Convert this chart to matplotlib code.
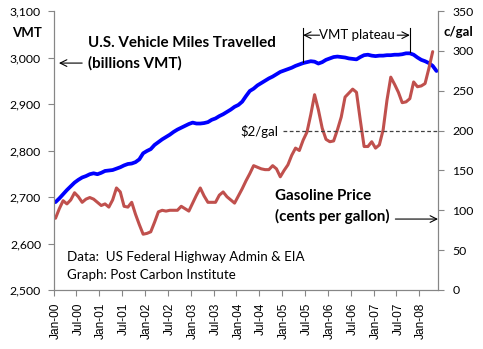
import numpy as np
import matplotlib
matplotlib.use('Agg')
import matplotlib.pyplot as plt
from matplotlib.ticker import FuncFormatter

# monthly values, Jan-00 onward
vmt = [2689, 2697, 2706, 2715, 2723, 2731, 2737, 2742, 2745, 2749,
       2751, 2749, 2752, 2756, 2757, 2758, 2761, 2764, 2768, 2771,
       2772, 2775, 2781, 2794, 2799, 2803, 2812, 2818, 2824, 2829,
       2834, 2840, 2845, 2849, 2853, 2857, 2860, 2858, 2858, 2859,
       2861, 2866, 2869, 2874, 2878, 2883, 2888, 2894, 2898, 2905,
       2917, 2928, 2933, 2940, 2945, 2950, 2955, 2959, 2964, 2969,
       2972, 2975, 2978, 2982, 2985, 2988, 2990, 2992, 2991, 2987,
       2990, 2995, 2998, 3001, 3002, 3001, 3000, 2998, 2997, 2996,
       3001, 3005, 3006, 3004, 3003, 3004, 3004, 3005, 3005, 3006,
       3006, 3007, 3009, 3009, 3006, 3000, 2995, 2992, 2988, 2982,
       2971]

price = [90, 102, 112, 108, 113, 122, 117, 110, 114, 116,
         114, 110, 106, 108, 104, 113, 128, 123, 105, 104,
         110, 95, 82, 70, 71, 73, 85, 98, 100, 99,
         100, 100, 100, 105, 102, 99, 109, 119, 128, 118,
         110, 110, 110, 119, 123, 117, 113, 109, 118, 127,
         137, 146, 156, 154, 152, 151, 151, 156, 152, 142,
         150, 157, 169, 178, 175, 188, 198, 220, 245, 226,
         203, 189, 186, 187, 201, 217, 242, 247, 252, 248,
         213, 180, 180, 186, 178, 182, 201, 238, 267, 258,
         248, 235, 236, 240, 261, 255, 256, 259, 278, 299]

tick_labels = ['Jan-00', 'Jul-00', 'Jan-01', 'Jul-01', 'Jan-02', 'Jul-02',
               'Jan-03', 'Jul-03', 'Jan-04', 'Jul-04', 'Jan-05', 'Jul-05',
               'Jan-06', 'Jul-06', 'Jan-07', 'Jul-07', 'Jan-08']

plateau_start, plateau_end = 65, 93
two_dollars = 200

W, H = 483, 349
plt.rcParams['font.family'] = ['Lato', 'DejaVu Sans']
fig = plt.figure(figsize=(W / 100, H / 100), dpi=100)
ax = fig.add_axes([53.6 / W, 1 - 290 / H, 384.8 / W, 279 / H])
ax2 = ax.twinx()

x_vmt = np.arange(len(vmt))
x_price = np.arange(len(price))
ax.plot(x_vmt, vmt, color='#0000ff', lw=2.7, solid_capstyle='round')
ax2.plot(x_price, price, color='#c0504d', lw=2.2, solid_capstyle='round')

ax.set_xlim(-0.5, len(vmt) - 0.5)
ax.set_ylim(2500, 3100)
ax2.set_ylim(0, 350)

gray = '#868686'
for a in (ax, ax2):
    a.spines['top'].set_visible(False)
    for s in ('left', 'right', 'bottom'):
        a.spines[s].set_color(gray)

ax.set_yticks(np.arange(2500, 3101, 100))
ax.yaxis.set_major_formatter(FuncFormatter(lambda v, p: '{:,.0f}'.format(v)))
ax.tick_params(axis='y', direction='out', length=4, color=gray, labelsize=8.8, pad=5)
ax2.set_yticks(np.arange(0, 351, 50))
ax2.tick_params(axis='y', direction='out', length=4, color=gray, labelsize=8.8, pad=6)

ax.set_xticks(np.arange(-0.5, len(vmt) - 0.5, 6))
ax.set_xticklabels([])
ax.set_xticks(np.arange(0, 6 * len(tick_labels), 6), minor=True)
ax.set_xticklabels(tick_labels, minor=True, rotation=90, family='Liberation Sans', fontsize=8.6)
ax.tick_params(axis='x', which='major', direction='out', length=4, color=gray)
ax.tick_params(axis='x', which='minor', length=0, pad=9)


def px(x, y):
    return x / W, 1 - y / H


arrow = dict(arrowstyle='->', color='black', lw=0.8, shrinkA=0, shrinkB=0,
             mutation_scale=12)

# $2/gal reference line
ax2.plot([59.7, len(vmt) - 0.5], [two_dollars, two_dollars], ls=(0, (3, 2)), color='#404040', lw=0.9)
fig.text(*px(240, 131), '$2/gal', fontsize=9.5, va='center', ha='left')

# VMT plateau bracket
top = 3063
ax.plot([plateau_start, plateau_start], [vmt[plateau_start] + 3, top], color='black', lw=0.8)
ax.plot([plateau_end, plateau_end], [vmt[plateau_end] + 3, top], color='black', lw=0.8)
mid = (plateau_start + plateau_end) / 2
ax.text(mid, 3048, 'VMT plateau', ha='center', va='center', fontsize=9.5)
ax.annotate('', xy=(plateau_start, 3048), xytext=(plateau_start + 4.3, 3048), arrowprops=arrow)
ax.annotate('', xy=(plateau_end, 3048), xytext=(plateau_end - 3.3, 3048), arrowprops=arrow)

# series labels
fig.text(*px(27, 33), 'VMT', fontsize=9.5, fontweight='bold', ha='center', va='center')
fig.text(*px(458, 32), 'c/gal', fontsize=9.5, fontweight='bold', ha='center', va='center')
fig.text(*px(88, 43), 'U.S. Vehicle Miles Travelled', fontsize=10.9, fontweight='bold', va='center')
fig.text(*px(88, 63), '(billions VMT)', fontsize=10.9, fontweight='bold', va='center')
ax.annotate('', xy=(0.9, 2988), xytext=(7.0, 2988), arrowprops=arrow)

fig.text(*px(275, 196), 'Gasoline Price', fontsize=10.9, fontweight='bold', va='center')
fig.text(*px(275, 216), '(cents per gallon)', fontsize=10.9, fontweight='bold', va='center')
ax2.annotate('', xy=(100.4, 89), xytext=(89.2, 89), arrowprops=arrow)

fig.text(*px(67, 257), 'Data:  US Federal Highway Admin & EIA', fontsize=9.6, va='center')
fig.text(*px(67, 275), 'Graph: Post Carbon Institute', fontsize=9.6, va='center')

fig.savefig('out.png', dpi=100)
